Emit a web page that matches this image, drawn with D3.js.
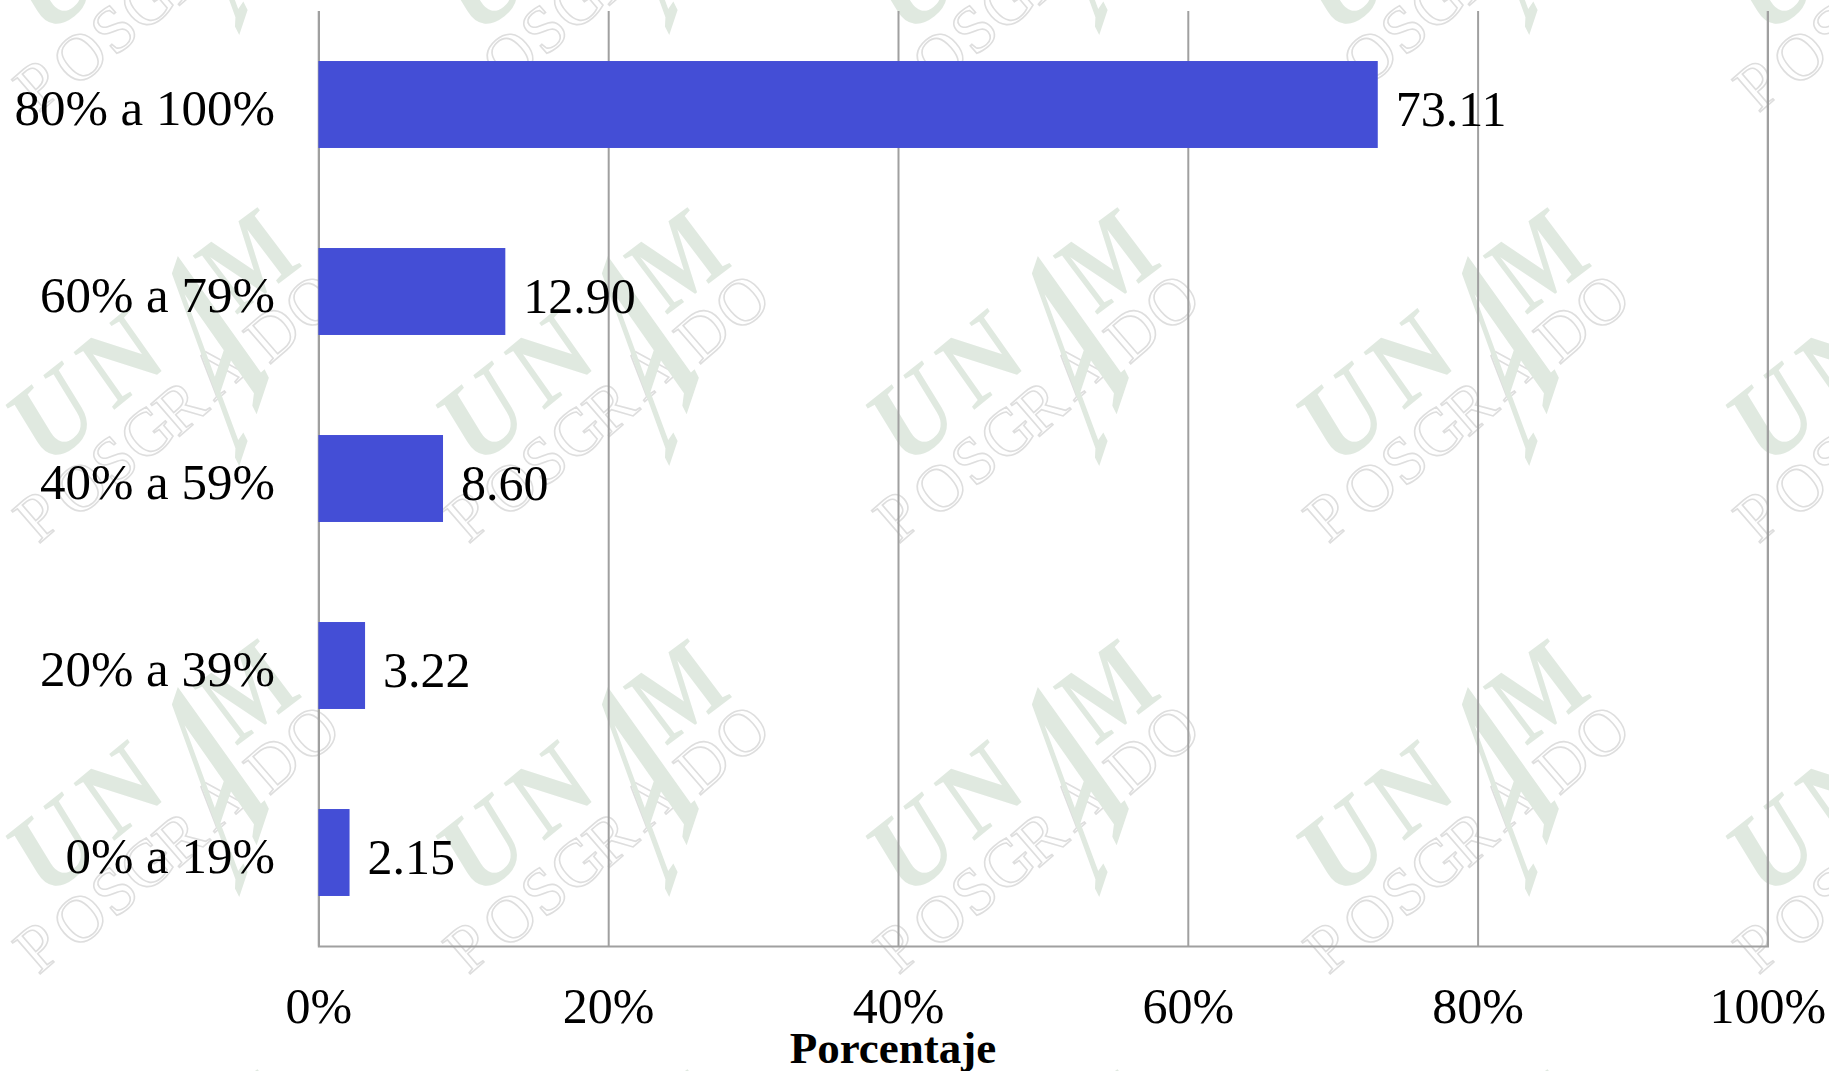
<!DOCTYPE html>
<html>
<head>
<meta charset="utf-8">
<script src="https://cdn.jsdelivr.net/npm/d3@7"></script>
<style>
html,body{margin:0;padding:0;background:#fff;}
svg{display:block;font-family:"Liberation Serif",serif;}
</style>
</head>
<body>
<svg id="chart" width="1829" height="1071"></svg>
<script>
const categories = ["80% a 100%","60% a 79%","40% a 59%","20% a 39%","0% a 19%"];
const values = [73.11,12.90,8.60,3.22,2.15];
const xTicks = [0,20,40,60,80,100];
const axisTitle = "Porcentaje";

// repeated background watermark
const tileX = [0,430,860,1290,1720];
const tileY = [-241,190,621,1052];
const markLetters = [
  {t:"U",m:[.84,-.66,.6,.98,73,257]},
  {t:"N",m:[.78,-.64,.62,.88,141,198]},
  {t:"A",m:[.42,-1.25,1.2,2.38,254,232]},
  {t:"M",m:[.72,-.54,.68,.9,270,100]}
];
const subLetters = [
  {t:"P",x:38,y:326},{t:"O",x:80,y:298},{t:"S",x:114,y:270},{t:"G",x:147,y:243},
  {t:"R",x:180,y:217},{t:"A",x:218,y:180},{t:"D",x:273,y:143},{t:"O",x:312,y:112}
];

const svg = d3.select("#chart");
const margin = {left:318.4,right:1767.4,top:11,bottom:946};
const x = d3.scaleLinear().domain([0,100]).range([margin.left,margin.right]);
const y = d3.scaleBand().domain(categories).range([margin.top,margin.bottom]).paddingInner(.535).paddingOuter(.2675);

// watermark
const tiles = svg.append("g").selectAll("g")
  .data(d3.cross(tileX,tileY)).join("g")
  .attr("transform",d=>`translate(${d[0]},${d[1]})`);
tiles.selectAll("text.sub").data(subLetters).join("text").attr("class","sub")
  .attr("text-anchor","middle").attr("font-size",66)
  .attr("fill","none").attr("stroke","#dedede").attr("stroke-width",1.6)
  .attr("transform",d=>`translate(${d.x},${d.y}) rotate(-41)`)
  .attr("dy",".33em").text(d=>d.t);
tiles.selectAll("text.main").data(markLetters).join("text").attr("class","main")
  .attr("text-anchor","middle").attr("font-size",100).attr("font-weight","bold")
  .attr("fill","#e0e9e0")
  .attr("transform",d=>`matrix(${d.m.join(",")})`).text(d=>d.t);

// axis and grid
const axis = svg.append("g").attr("transform",`translate(0,${margin.bottom})`)
  .call(d3.axisBottom(x).tickValues(xTicks).tickFormat(d=>d+"%").tickSize(-(margin.bottom-margin.top)).tickPadding(0));
axis.select(".domain").attr("stroke","#a0a0a0").attr("stroke-width",2.2);
axis.selectAll(".tick line").attr("stroke","#a0a0a0").attr("stroke-width",2);
axis.selectAll(".tick text").attr("font-size",50).attr("font-family","Liberation Serif")
  .attr("fill","#000").attr("y",77).attr("dy",0);

// bars
svg.append("g").selectAll("rect").data(values).join("rect")
  .attr("x",x(0)).attr("y",(d,i)=>y(categories[i]))
  .attr("width",d=>x(d)-x(0)).attr("height",y.bandwidth())
  .attr("fill","#444ed6");

// category labels
svg.append("g").selectAll("text").data(categories).join("text")
  .attr("x",275).attr("y",d=>y(d)+y.bandwidth()/2+20)
  .attr("text-anchor","end").attr("font-size",51).attr("fill","#000").text(d=>d);

// value labels
svg.append("g").selectAll("text").data(values).join("text")
  .attr("x",d=>x(d)+18).attr("y",(d,i)=>y(categories[i])+y.bandwidth()/2+21)
  .attr("font-size",50).attr("fill","#000").text(d=>d.toFixed(2));

// title
svg.append("text").attr("x",893).attr("y",1063).attr("text-anchor","middle")
  .attr("font-size",45).attr("font-weight","bold").attr("fill","#000").text(axisTitle);
</script>
</body>
</html>
